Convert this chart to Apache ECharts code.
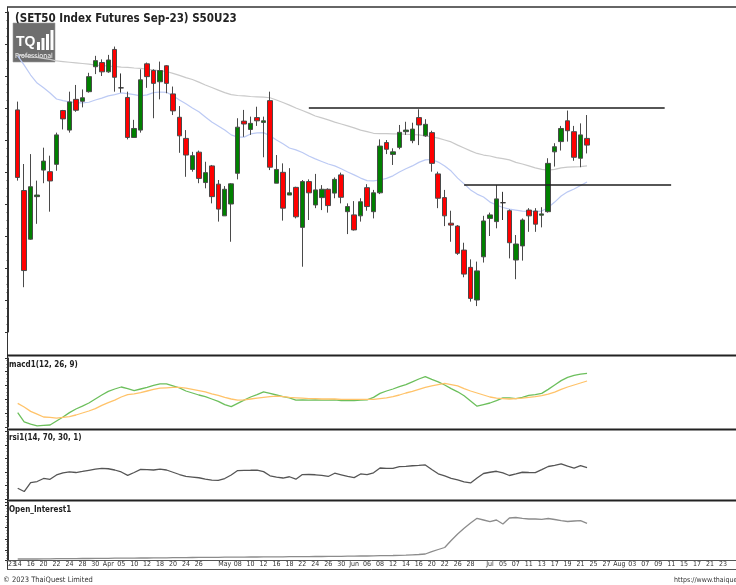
<!DOCTYPE html>
<html>
<head>
<meta charset="utf-8">
<title>S50U23</title>
<script src="https://cdn.jsdelivr.net/npm/echarts@6.0.0/dist/echarts.min.js"></script>
<style>
html,body{margin:0;padding:0;background:#fff;}
#chart{width:736px;height:585px;}
</style>
</head>
<body>
<div id="chart"></div>
<script>
/* trading days shown on the time axis (MM-DD, 2023) */
var dates = [
  '03-13','03-14','03-15','03-16','03-17','03-20','03-21','03-22','03-23','03-24','03-27','03-28','03-29','03-30','03-31',
  '04-03','04-04','04-05','04-07','04-10','04-11','04-12','04-17','04-18','04-19','04-20','04-21','04-24','04-25','04-26','04-27','04-28',
  '05-02','05-03','05-05','05-08','05-09','05-10','05-11','05-12','05-15','05-16','05-17','05-18','05-19','05-22','05-23','05-24','05-25','05-26','05-29','05-30','05-31',
  '06-01','06-02','06-06','06-07','06-08','06-09','06-12','06-13','06-14','06-15','06-16','06-19','06-20','06-21','06-22','06-23','06-26','06-27','06-28','06-29','06-30',
  '07-03','07-04','07-05','07-06','07-07','07-10','07-11','07-12','07-13','07-14','07-17','07-18','07-19','07-20','07-21','07-24','07-25','07-26','07-27','07-31',
  '08-01','08-02','08-03','08-04','08-07','08-08','08-09','08-10','08-11','08-14','08-15','08-16','08-17','08-18','08-21','08-22','08-23','08-24'
];
var tickLabels = [
  ['03-13',"'23"],['03-14','14'],['03-16','16'],['03-20','20'],['03-22','22'],['03-24','24'],['03-28','28'],['03-30','30'],
  ['04-03','Apr'],['04-05','05'],['04-10','10'],['04-12','12'],['04-18','18'],['04-20','20'],['04-24','24'],['04-26','26'],
  ['05-03','May'],['05-08','08'],['05-10','10'],['05-12','12'],['05-16','16'],['05-18','18'],['05-22','22'],['05-24','24'],['05-26','26'],['05-30','30'],
  ['06-01','Jun'],['06-06','06'],['06-08','08'],['06-12','12'],['06-14','14'],['06-16','16'],['06-20','20'],['06-22','22'],['06-26','26'],['06-28','28'],
  ['07-03','Jul'],['07-05','05'],['07-07','07'],['07-11','11'],['07-13','13'],['07-17','17'],['07-19','19'],['07-21','21'],['07-25','25'],['07-27','27'],
  ['08-01','Aug'],['08-03','03'],['08-07','07'],['08-09','09'],['08-11','11'],['08-15','15'],['08-17','17'],['08-21','21'],['08-23','23']
];
/* first bar is 03-14 */
var firstBar = '03-14';
/* [open, close, low, high] */
var ohlc = [
  [959.4,938.3,937.3,962.0],[934.2,909.2,904.0,942.5],[919.0,935.4,918.8,945.6],[932.3,932.8,923.8,937.3],[940.6,943.4,936.5,947.6],
  [940.1,937.2,927.6,945.1],[942.4,951.6,940.4,952.3],[959.2,956.6,953.3,959.4],[953.1,961.9,952.3,965.1],[962.7,959.3,958.8,967.2],
  [962.1,963.2,960.2,965.8],[965.1,969.8,964.8,971.0],[972.9,974.8,970.6,976.3],[974.2,971.3,970.0,975.2],[971.3,975.0,971.0,976.6],
  [978.3,969.6,965.1,979.2],[966.3,966.3,964.8,970.8],[963.3,950.8,950.2,965.1],[950.8,953.6,950.8,956.3],[953.1,968.8,952.3,972.1],
  [973.8,969.8,966.3,974.2],[971.7,967.7,956.8,972.1],[968.2,971.7,962.7,974.5],[973.2,967.7,964.6,973.4],[964.4,959.1,957.8,966.7],
  [957.1,951.3,946.0,960.6],[950.5,945.3,938.5,953.1],[940.8,945.1,940.1,946.3],[946.2,938.0,936.5,946.7],[936.7,939.8,934.9,943.2],
  [941.9,932.3,930.2,942.2],[936.2,928.4,924.5,937.5],[926.3,934.6,926.3,935.6],[930.0,936.3,918.2,936.5],[939.6,954.0,937.7,956.8],
  [955.9,955.0,951.0,959.4],[953.3,955.2,951.6,957.3],[957.0,956.0,954.4,960.4],[955.5,956.0,944.6,957.3],[962.3,941.5,940.6,965.1],
  [936.5,940.8,936.5,945.3],[939.9,928.7,924.8,942.7],[932.8,933.5,932.8,941.2],[935.2,926.0,925.5,935.4],[922.7,937.0,910.4,937.5],
  [937.0,933.5,925.0,937.7],[929.7,934.4,928.7,939.4],[932.0,934.6,928.1,935.9],[934.6,929.5,927.3,934.9],[933.4,937.7,931.8,938.3],
  [939.1,932.1,930.2,939.8],[927.6,929.2,920.6,930.2],[926.6,921.9,921.7,930.9],[926.3,930.7,924.5,931.8],[935.1,929.2,927.9,936.2],
  [927.6,933.5,925.5,934.4],[933.5,948.1,933.1,950.2],[949.2,947.1,945.6,950.0],[945.5,946.3,942.2,947.4],[947.7,952.4,947.1,954.7],
  [952.6,953.1,951.6,955.7],[949.8,953.4,949.0,955.4],[957.0,954.7,948.4,959.6],[951.3,954.9,951.0,956.5],[952.3,942.7,940.1,952.9],
  [939.4,931.8,928.7,940.1],[932.0,926.3,923.1,934.4],[924.0,923.4,918.2,927.9],[923.1,914.6,914.1,923.4],[915.6,908.1,907.1,917.9],
  [910.2,900.5,899.5,912.7],[900.0,909.1,898.1,912.0],[913.5,924.7,911.7,926.3],[925.5,926.6,920.0,927.3],[924.5,931.6,922.4,935.9],
  [930.4,930.4,925.0,933.8],[927.9,917.9,913.0,928.3],[912.5,917.5,906.5,920.3],[916.9,925.0,912.3,925.5],[928.1,926.3,921.3,928.7],
  [927.8,923.7,921.3,928.7],[926.5,926.9,922.7,929.0],[927.6,942.7,927.3,944.3],[946.3,947.9,941.7,949.0],[949.5,953.6,946.7,954.4],
  [956.0,952.9,949.5,959.2],[952.6,944.6,943.5,954.4],[944.3,951.6,941.5,955.2],[950.5,948.4,945.8,957.8]
];
var maLong = [
  976.6,976.3,975.9,975.8,975.5,975.2,974.7,974.5,974.3,974.1,973.9,973.7,973.4,973.3,973.1,973.0,972.8,972.7,972.5,972.4,
  972.1,971.9,971.6,971.4,970.8,970.2,969.5,968.9,968.1,967.2,966.4,965.6,964.8,964.2,963.9,963.8,963.6,963.5,963.4,963.2,
  962.5,961.7,960.9,960.0,959.2,958.4,957.5,956.9,956.3,955.6,955.0,954.4,953.8,953.1,952.6,952.1,952.0,952.0,951.9,951.9,
  951.8,951.7,951.6,951.3,951.0,950.6,950.0,949.4,948.4,947.5,946.6,945.8,945.3,945.0,944.5,944.2,943.8,943.0,942.5,941.9,
  941.3,940.8,940.6,940.8,941.3,941.5,941.6,941.7,941.9
];
var maShort = [
  976.3,973.4,970.3,967.8,966.3,964.7,962.8,962.3,961.9,961.7,961.6,961.8,962.5,963.1,963.8,964.2,964.7,964.5,964.2,963.8,
  964.1,964.8,965.0,964.9,963.8,962.5,961.3,960.0,958.8,957.2,955.6,954.4,953.1,951.6,950.9,950.9,951.9,952.2,952.3,951.3,
  950.0,948.8,947.5,946.9,946.1,945.0,944.1,943.3,942.5,941.9,941.0,940.0,939.1,938.1,937.3,937.2,937.5,938.0,938.8,940.0,
  941.0,941.9,943.0,943.8,943.9,943.1,941.9,940.3,938.1,936.3,934.4,933.1,932.2,930.6,929.7,928.9,928.4,928.1,927.8,927.7,
  927.7,927.8,928.9,930.6,932.5,933.8,934.7,935.8,936.9
];
var resistance = 960.0;
var support = 936.1;
var macdLine = [
  -3.4,-5.7,-6.3,-6.7,-6.6,-6.5,-5.5,-4.5,-3.4,-2.5,-1.8,-1.0,0,1.0,1.9,2.5,3.0,2.6,2.1,2.5,
  2.9,3.4,3.8,3.8,3.3,2.8,2.0,1.5,1.0,0.6,0,-0.6,-1.4,-1.9,-1.1,-0.3,0.5,1.1,1.8,1.4,
  1.0,0.6,0.3,-0.3,-0.2,-0.3,-0.2,-0.3,-0.3,-0.2,-0.4,-0.4,-0.4,-0.3,-0.2,0.4,1.4,2.0,2.5,3.1,
  3.6,4.3,5.0,5.6,4.9,4.3,3.5,2.6,1.8,0.8,-0.5,-1.8,-1.4,-1.0,-0.4,0.3,0.3,0.1,0.4,0.9,
  1.1,1.4,2.4,3.5,4.6,5.4,5.9,6.2,6.4
];
var signalLine = [
  -1.1,-2.0,-3.1,-3.8,-4.5,-4.6,-4.8,-4.6,-4.4,-4.0,-3.5,-3.0,-2.4,-1.6,-0.9,-0.3,0.5,1.1,1.3,1.6,
  2.0,2.4,2.7,2.8,2.9,2.9,2.7,2.4,2.1,1.8,1.3,0.9,0.4,0,-0.3,-0.2,0,0.2,0.4,0.6,
  0.7,0.6,0.4,0.3,0.2,0.1,0.1,0.0,0.0,0.0,-0.1,-0.1,-0.1,-0.1,-0.1,-0.1,0.1,0.3,0.6,1.0,
  1.5,1.9,2.4,2.9,3.3,3.6,3.9,3.6,3.3,2.6,2.0,1.5,1.0,0.5,0.2,0.1,0,0.1,0.2,0.4,
  0.6,0.85,1.2,1.7,2.4,3.0,3.5,4.0,4.5
];
var rsi = [
  26.9,23.3,33.3,34.4,37.8,36.9,41.7,44.1,45.2,44.4,45.6,46.9,48.1,49.1,48.6,47.2,45.0,41.3,44.4,47.8,
  47.6,47.2,48.1,47.2,44.7,42.2,40.1,39.4,38.6,37.1,35.9,35.6,37.7,41.7,46.6,46.8,46.9,47.1,45.4,40.8,
  39.2,38.3,39.7,37.0,42.1,42.2,41.9,41.2,40.0,43.6,41.9,40.1,38.8,42.8,42.1,44.1,49.4,49.0,48.9,50.9,
  51.3,51.9,52.3,52.8,47.8,43.0,40.6,38.0,36.3,34.1,32.8,38.3,43.3,44.7,45.8,43.9,41.1,42.8,44.7,44.4,
  44.2,47.6,51.1,52.4,53.9,51.4,49.4,52.0,49.8
];
var openInterest = [
  18000,18000,18000,18000,19800,19800,20700,20700,21600,21600,22500,22500,23400,23400,24300,25200,25200,26100,26100,27000,
  27000,27900,28800,28800,29700,30600,30600,31500,32400,32400,33300,33300,34200,34200,35100,35100,36000,36000,36900,36900,
  37800,37800,38700,38700,39600,39600,40500,40500,41400,42300,42300,43200,44100,45000,45000,46800,47700,48600,49500,51300,
  53100,55800,58500,63000,83700,103500,121500,184500,243000,294300,342000,384300,369000,353700,369000,333000,387000,391500,384300,378000,
  378000,375300,382500,373500,362700,355500,360000,362700,339300
];

var FF = "'DejaVu Sans Condensed','Liberation Sans Narrow','Liberation Sans',sans-serif";
var labelMap = {};
tickLabels.forEach(function (t) { labelMap[t[0]] = t[1]; });
var lead = dates.indexOf(firstBar);
function pad(arr) {
  var out = [];
  for (var i = 0; i < lead; i++) out.push('-');
  return out.concat(arr);
}

var gridLeft = 8, gridWidth = 724.6;
function grid(top, height) {
  return { left: gridLeft, width: gridWidth, top: top, height: height, outerBoundsMode: 'none' };
}
function xAx(idx, show) {
  return {
    type: 'category', gridIndex: idx, data: dates, boundaryGap: true,
    axisLine: { show: false }, axisTick: { show: false }, splitLine: { show: false },
    axisLabel: show ? {
      interval: 0, margin: 1, fontSize: 7, color: '#333', fontFamily: FF,
      formatter: function (v) { return labelMap[v] || ''; }
    } : { show: false }
  };
}
function yAx(idx, min, max, interval) {
  var a = {
    type: 'value', gridIndex: idx, min: min, max: max, scale: true,
    axisLine: { show: true, lineStyle: { color: '#333', width: 1 } },
    axisTick: { show: true, length: 3, lineStyle: { color: '#333' } },
    minorTick: { show: true, splitNumber: 4, length: 1.5, lineStyle: { color: '#555' } },
    axisLabel: { show: false }, splitLine: { show: false }
  };
  if (interval) a.interval = interval;
  return a;
}
function hline(y, w, c) {
  return { type: 'line', z: 50, silent: true, shape: { x1: 7, y1: y, x2: 736, y2: y }, style: { stroke: c, lineWidth: w } };
}
function txt(s, x, y, size, bold, color) {
  return { type: 'text', z: 60, silent: true, style: { text: s, x: x, y: y, fill: color || '#222', fontSize: size, fontWeight: bold ? 'bold' : 'normal', fontFamily: FF, verticalAlign: 'middle' } };
}
function line(name, gi, data, color, width) {
  return {
    name: name, type: 'line', xAxisIndex: gi, yAxisIndex: gi, data: pad(data),
    showSymbol: false, symbol: 'none', silent: true, z: 3,
    lineStyle: { color: color, width: width }
  };
}

var option = {
  animation: false,
  backgroundColor: '#fff',
  grid: [grid(12, 320), grid(358, 69), grid(431, 68), grid(502, 58)],
  xAxis: [xAx(0, false), xAx(1, false), xAx(2, false), xAx(3, true)],
  yAxis: [yAx(0, 890, 990, 10), yAx(1, -7, 10.25, 3.5), yAx(2, 15, 90.5, 15), yAx(3, 9000, 531000)],
  series: [
    line('MA long', 0, maLong, '#c9c9c9', 1.2),
    line('MA short', 0, maShort, '#bccaf4', 1.2),
    {
      name: 'S50U23', type: 'candlestick', xAxisIndex: 0, yAxisIndex: 0,
      data: pad(ohlc), barWidth: 5, silent: true, z: 4,
      itemStyle: {
        color: '#008000', color0: '#ff0000',
        borderColor: '#4a4a4a', borderColor0: '#4a4a4a', borderColorDoji: '#333',
        borderWidth: 1
      },
      markLine: {
        silent: true, symbol: ['none', 'none'], label: { show: false },
        lineStyle: { color: '#1e1e1e', width: 1.6, type: 'solid' },
        data: [
          [{ coord: [dates[46], resistance] }, { coord: [dates[101], resistance] }],
          [{ coord: [dates[70], support] }, { coord: [dates[102], support] }]
        ]
      }
    },
    line('macd', 1, macdLine, '#6cbf5c', 1.3),
    line('signal', 1, signalLine, '#ffc36a', 1.3),
    line('rsi', 2, rsi, '#555555', 1.3),
    line('oi', 3, openInterest, '#8c8c8c', 1.3)
  ],
  graphic: [
    hline(7, 1.5, '#333'),
    { type: 'line', z: 50, silent: true, shape: { x1: 7.5, y1: 7, x2: 7.5, y2: 570 }, style: { stroke: '#333', lineWidth: 1 } },
    hline(355.5, 2, '#222'),
    hline(429.5, 2, '#222'),
    hline(500.5, 2, '#222'),
    hline(560.5, 1, '#555'),
    hline(569.5, 1, '#555'),
    txt('(SET50 Index Futures Sep-23) S50U23', 15, 19, 11.5, true, '#222'),
    txt('macd1(12, 26, 9)', 9, 365, 8, true),
    txt('rsi1(14, 70, 30, 1)', 9, 438, 8, true),
    txt('Open_Interest1', 9, 510, 8, true),
    txt('\u00a9 2023 ThaiQuest Limited', 3, 580, 7.5, false, '#333'),
    txt('https://www.thaiquest.com', 674, 580, 7, false, '#333'),
    {
      type: 'group', x: 13, y: 23, z: 100, silent: true,
      children: [
        { type: 'rect', shape: { x: 0, y: 0, width: 42, height: 39 }, style: { fill: 'rgba(98,98,98,0.92)', stroke: '#9a9a9a', lineWidth: 0.6 } },
        { type: 'text', style: { text: 'TQ', x: 3, y: 19, fill: '#fff', fontSize: 14, fontWeight: 'bold', fontFamily: 'Liberation Sans', verticalAlign: 'middle' } },
        { type: 'rect', shape: { x: 24, y: 19, width: 3, height: 8 }, style: { fill: '#fff' } },
        { type: 'rect', shape: { x: 28.5, y: 15, width: 3, height: 12 }, style: { fill: '#fff' } },
        { type: 'rect', shape: { x: 33, y: 11, width: 3, height: 16 }, style: { fill: '#fff' } },
        { type: 'rect', shape: { x: 37.5, y: 7, width: 3, height: 20 }, style: { fill: '#fff' } },
        { type: 'text', style: { text: 'Professional', x: 2, y: 33, fill: '#fff', fontSize: 7, fontFamily: FF, verticalAlign: 'middle' } }
      ]
    }
  ]
};

var myChart = echarts.init(document.getElementById('chart'), null, { renderer: 'canvas' });
myChart.setOption(option);
</script>
</body>
</html>
